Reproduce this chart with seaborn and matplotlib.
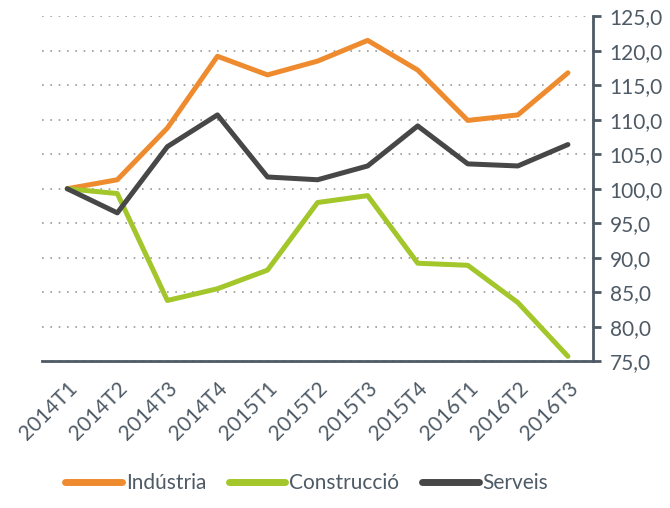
import numpy as np
import pandas as pd
import matplotlib
matplotlib.use("Agg")
import matplotlib.pyplot as plt
from matplotlib.ticker import FuncFormatter, FixedLocator
import seaborn as sns

sns.set_style("white")
plt.rcParams['font.family'] = ['Lato', 'DejaVu Sans']

periods = ['2014T1', '2014T2', '2014T3', '2014T4', '2015T1', '2015T2',
           '2015T3', '2015T4', '2016T1', '2016T2', '2016T3']
industria = [100.0, 101.3, 108.8, 119.2, 116.5, 118.5, 121.5, 117.2, 109.9, 110.7, 116.8]
construccio = [100.0, 99.3, 83.8, 85.5, 88.2, 98.0, 99.0, 89.2, 88.9, 83.5, 75.7]
serveis = [100.0, 96.5, 106.1, 110.7, 101.7, 101.3, 103.3, 109.1, 103.6, 103.3, 106.4]
series = ['Indústria', 'Construcció', 'Serveis']
colors = ['#EF8B2F', '#A3C62B', '#474747']

df = pd.DataFrame({'periode': periods, series[0]: industria,
                   series[1]: construccio, series[2]: serveis})
long = df.melt(id_vars='periode', var_name='sector', value_name='index')

axis_col = '#4E5A65'

fig = plt.figure(figsize=(6.7, 5.08), dpi=100)
ax = fig.add_axes([0.063, 0.289, 0.822, 0.679])

sns.lineplot(data=long, x='periode', y='index', hue='sector', hue_order=series,
             palette=colors, linewidth=3.6, sort=False, ax=ax, legend=False)

ax.set_xlim(-0.5, len(periods) - 0.5)
ax.set_ylim(75, 125)
ax.set_xlabel('')
ax.set_ylabel('')

# y axis on the right
ax.yaxis.tick_right()
ax.set_yticks(np.arange(75, 126, 5))
ax.yaxis.set_major_formatter(FuncFormatter(lambda v, p: f'{v:.1f}'.replace('.', ',')))
ax.tick_params(axis='y', direction='out', length=6, width=2, color=axis_col,
               labelcolor=axis_col, labelsize=15, pad=6)

# x ticks between categories
ax.set_xticks(range(len(periods)))
ax.set_xticklabels(periods, rotation=45, ha='right', rotation_mode='anchor')
ax.xaxis.set_minor_locator(FixedLocator(np.arange(-0.5, len(periods), 1)))
ax.tick_params(axis='x', which='major', length=0, labelcolor=axis_col,
               labelsize=15, pad=12)
ax.tick_params(axis='x', which='minor', direction='out', length=6, width=2,
               color=axis_col)

ax.grid(axis='y', linestyle=(0, (1, 4)), color='#9A9A9A', linewidth=1.2)
ax.grid(axis='x', visible=False)

for s in ['left', 'top']:
    ax.spines[s].set_visible(False)
for s in ['right', 'bottom']:
    ax.spines[s].set_color(axis_col)
    ax.spines[s].set_linewidth(2)

handles = [plt.Line2D([], [], color=c, linewidth=5, solid_capstyle='round') for c in colors]
fig.legend(handles, series, loc='lower center', bbox_to_anchor=(0.458, -0.008), ncol=3,
           frameon=False, fontsize=15, handlelength=2.7, handletextpad=0.2,
           columnspacing=1.1, labelcolor=axis_col)

fig.savefig('out.png', dpi=100)
